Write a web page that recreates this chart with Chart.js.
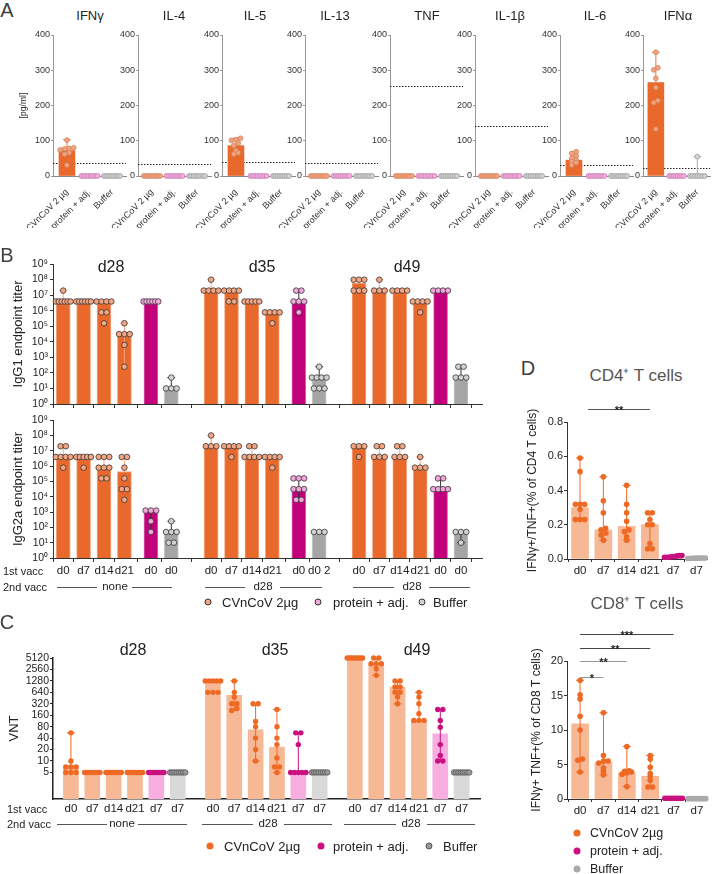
<!DOCTYPE html>
<html>
<head>
<meta charset="utf-8">
<title>CVnCoV immunogenicity</title>
<script src="https://cdn.jsdelivr.net/npm/chart.js@4.4.1/dist/chart.umd.min.js"></script>
<style>
  body { margin: 0; width: 715px; height: 874px; position: relative; overflow: hidden; background: #fff;
         font-family: 'Liberation Sans', Arial, sans-serif; color: #222; }
  canvas { position: absolute; }
  .t { position: absolute; white-space: nowrap; line-height: 1; transform: translate(-50%, -50%); }
  .t.l { transform: translate(0, -50%); }
  .rule { position: absolute; height: 0; border-top: 1px solid #555; }
  .dot { position: absolute; width: 7px; height: 7px; border-radius: 50%; box-sizing: border-box; transform: translate(-50%, -50%); }
</style>
</head>
<body>
<script>
/* ── A. serum cytokines (pg/ml) ──────────────────────────── */
const cytokines = ['IFNγ', 'IL-4', 'IL-5', 'IL-13', 'TNF', 'IL-1β', 'IL-6', 'IFNα'];
const groupsA   = ['CVnCoV 2 µg', 'protein + adj.', 'Buffer'];
const lloqA     = [36, 33, 39, 38, 255, 142, 31, 24];
const zeros8    = [0, 0, 0, 0, 0, 0, 0, 0];
// per cytokine: [CVnCoV, protein + adj., Buffer]
const barA = [[72, 0, 0], [0, 0, 0], [86, 0, 0], [0, 0, 0], [0, 0, 0], [0, 0, 0], [45, 0, 0], [265, 0, 0]];
const errA = [[103, null, null], [null, null, null], [107, null, null], [null, null, null],
              [null, null, null], [null, null, null], [69, null, null], [351, null, 55]];
const dotsA = [
  [[102, 80, 78, 77, 74, 66, 62, 31], zeros8, zeros8],
  [zeros8, zeros8, zeros8],
  [[107, 103, 101, 93, 86, 72, 66, 62], zeros8, zeros8],
  [zeros8, zeros8, zeros8],
  [zeros8, zeros8, zeros8],
  [zeros8, zeros8, zeros8],
  [[69, 64, 57, 50, 45, 41, 38, 31], zeros8, zeros8],
  [[351, 307, 301, 277, 251, 214, 208, 133], zeros8, [55, 0, 0, 0, 0, 0, 0, 0]],
];

/* ── B. IgG endpoint titers ──────────────────────────────── */
const timepoints = ['d28', 'd35', 'd49'];
const seriesB    = ['cv', 'cv', 'cv', 'cv', 'prot', 'buf'];
const firstVaccB = [['d0', 'd7', 'd14', 'd21', 'd0', 'd0'], ['d0', 'd7', 'd14', 'd21', 'd0', 'd0 2'], ['d0', 'd7', 'd14', 'd21', 'd0', 'd0']];
const secondVacc = ['none', 'd28', 'd28'];
const titerTicks = [1, 10, 1e2, 1e3, 1e4, 1e5, 1e6, 1e7, 1e8, 1e9];

const igg1Bar = [[3.9e6, 3.9e6, 3.9e6, 3.1e4, 3.9e6, 12], [1.95e7, 1.95e7, 3.9e6, 7.8e5, 3.9e6, 50], [6e7, 1.95e7, 1.95e7, 3.5e6, 1.95e7, 50]];
const igg1Hi  = [[1.95e7, null, null, 1.56e5, null, 50], [9.8e7, null, null, null, 1.95e7, 250], [null, 9.8e7, null, null, null, 250]];
const igg1Lo  = [[null, null, null, 250, null, null], [null, null, null, null, null, null], [null, null, null, null, null, null]];
const igg1Dots = [
  [[1.95e7, 3.9e6, 3.9e6, 3.9e6, 3.9e6, 3.9e6, 3.9e6], [3.9e6, 3.9e6, 3.9e6, 3.9e6, 3.9e6, 3.9e6],
   [3.9e6, 3.9e6, 3.9e6, 3.9e6, 7.8e5, 7.8e5, 1.56e5], [1.56e5, 3.1e4, 3.1e4, 3.1e4, 6250, 250],
   [3.9e6, 3.9e6, 3.9e6, 3.9e6, 3.9e6, 3.9e6], [50, 10, 10, 10]],
  [[9.8e7, 1.95e7, 1.95e7, 1.95e7, 1.95e7], [1.95e7, 1.95e7, 1.95e7, 1.95e7, 3.9e6, 3.9e6],
   [3.9e6, 3.9e6, 3.9e6, 3.9e6, 3.9e6], [7.8e5, 7.8e5, 7.8e5, 7.8e5, 1.56e5],
   [1.95e7, 1.95e7, 3.9e6, 3.9e6, 3.9e6, 7.8e5], [250, 50, 50, 50, 50, 10, 10, 10]],
  [[9.8e7, 9.8e7, 9.8e7, 1.95e7, 1.95e7, 1.95e7], [9.8e7, 1.95e7, 1.95e7, 1.95e7],
   [1.95e7, 1.95e7, 1.95e7, 1.95e7], [3.9e6, 3.9e6, 3.9e6, 3.9e6, 7.8e5],
   [1.95e7, 1.95e7, 1.95e7, 1.95e7], [250, 250, 50, 50, 50]],
];

const igg2aBar = [[3.9e6, 3.9e6, 7.8e5, 4.4e5, 1250, 50], [1.95e7, 1.95e7, 3.9e6, 3.9e6, 3.1e4, 50], [1.95e7, 3.9e6, 3.9e6, 7.8e5, 3.1e4, 50]];
const igg2aHi  = [[1.95e7, null, 3.9e6, 3.9e6, null, 250], [9.8e7, null, 1.95e7, null, 1.56e5, null], [null, 1.95e7, 1.95e7, 3.9e6, 1.56e5, null]];
const igg2aLo  = [[null, null, null, null, 50, null], [null, null, null, null, 6250, null], [null, null, null, null, null, 10]];
const igg2aDots = [
  [[1.95e7, 1.95e7, 3.9e6, 3.9e6, 3.9e6, 3.9e6, 7.8e5], [3.9e6, 3.9e6, 3.9e6, 3.9e6, 3.9e6, 7.8e5],
   [3.9e6, 3.9e6, 3.9e6, 7.8e5, 7.8e5, 7.8e5, 1.56e5, 1.56e5], [3.9e6, 3.9e6, 7.8e5, 1.56e5, 3.1e4, 3.1e4, 6250],
   [1250, 1250, 1250, 250, 50], [250, 50, 50, 50, 10, 10]],
  [[9.8e7, 1.95e7, 1.95e7, 1.95e7], [1.95e7, 1.95e7, 1.95e7, 1.95e7, 3.9e6],
   [1.95e7, 1.95e7, 3.9e6, 3.9e6, 3.9e6, 3.9e6], [3.9e6, 3.9e6, 3.9e6, 3.9e6, 7.8e5],
   [1.56e5, 1.56e5, 1.56e5, 3.1e4, 3.1e4, 3.1e4, 6250, 6250], [50, 50, 50]],
  [[1.95e7, 1.95e7, 1.95e7, 3.9e6], [1.95e7, 1.95e7, 3.9e6, 3.9e6, 3.9e6],
   [1.95e7, 1.95e7, 3.9e6, 3.9e6, 3.9e6], [3.9e6, 7.8e5, 7.8e5, 7.8e5],
   [1.56e5, 1.56e5, 3.1e4, 3.1e4, 3.1e4, 3.1e4], [50, 50, 50, 10]],
];

/* ── C. virus neutralising titers ────────────────────────── */
const firstVaccC = ['d0', 'd7', 'd14', 'd21', 'd7', 'd7'];
const vntTicks   = [5, 10, 20, 40, 80, 160, 320, 640, 1280, 2560, 5120];
const vntBar = [[7.5, 5, 5, 5, 5, 5], [1280, 530, 66, 23, 5, 5], [5120, 3620, 880, 117, 52, 5]];
const vntHi  = [[55, null, null, null, null, null], [null, 1280, 320, 227, 55, null], [null, 5120, 1280, 640, 227, null]];
const vntLo  = [[5, null, null, null, null, null], [null, 215, 10, 5, 5, null], [null, 1790, 320, 117, 10, null]];
const five8  = [5, 5, 5, 5, 5, 5, 5, 5];
const vntDots = [
  [[55, 10, 7, 7, 7, 5, 5, 5], five8, five8, five8, five8, five8],
  [[1280, 1280, 1280, 1280, 1280, 640, 640, 640], [1280, 640, 480, 320, 320, 240, 213],
   [320, 320, 110, 80, 40, 20, 10], [227, 80, 40, 27, 12, 7, 7, 5], [55, 55, 27, 5, 5, 5, 5, 5], five8],
  [[5120, 5120, 5120, 5120, 5120, 5120, 5120, 5120], [5120, 5120, 3620, 3620, 3620, 2670, 1790],
   [1280, 1280, 880, 880, 640, 640, 480, 320], [640, 480, 320, 175, 117, 117, 117],
   [227, 227, 117, 77, 27, 14, 10, 10], five8],
];

/* ── D. intracellular cytokine staining ──────────────────── */
const daysD = ['d0', 'd7', 'd14', 'd21', 'd7', 'd7'];
const cd4Bar = [0.30, 0.17, 0.19, 0.20, 0.015, 0.004];
const cd4Lo  = [0.23, 0.11, 0.11, 0.06, null, null];
const cd4Hi  = [0.59, 0.48, 0.43, 0.27, null, null];
const cd4Dots = [
  [0.59, 0.51, 0.32, 0.32, 0.32, 0.29, 0.23, 0.23, 0.23], [0.48, 0.34, 0.27, 0.18, 0.17, 0.15, 0.14, 0.11],
  [0.43, 0.32, 0.27, 0.22, 0.17, 0.16, 0.13, 0.11], [0.27, 0.27, 0.23, 0.20, 0.20, 0.09, 0.06, 0.06],
  [0.02, 0.02, 0.015, 0.015, 0.01, 0.01, 0.012, 0.018], [0.005, 0.004, 0.006, 0.003, 0.005, 0.004, 0.006, 0.005],
];
const cd8Bar = [10.9, 5.3, 3.8, 3.3, 0.1, 0.05];
const cd8Lo  = [3.9, 3.5, 1.8, 1.75, null, null];
const cd8Hi  = [17.2, 12.5, 7.6, 6.3, null, null];
const cd8Dots = [
  [17.2, 15.1, 14.5, 12, 10, 5.8, 5.6, 3.9], [12.5, 6.3, 5.5, 5.5, 5.2, 4.5, 4, 3.5],
  [7.6, 4.1, 4, 3.9, 3.8, 3.6, 1.8], [6.3, 5.8, 4.6, 3.7, 3.3, 2.7, 1.75, 1.75],
  [0.1, 0.1, 0.1, 0.1, 0.1, 0.1, 0.1, 0.1], [0.05, 0.05, 0.05, 0.05, 0.05, 0.05, 0.05, 0.05],
];
const sigCD4 = [{ from: 0, to: 3, text: '**', level: 0 }];
const sigCD8 = [{ from: 0, to: 1, text: '*', level: 0 }, { from: 0, to: 2, text: '**', level: 1 },
                { from: 0, to: 3, text: '**', level: 2 }, { from: 0, to: 4, text: '***', level: 3 }];
const legendNames = ['CVnCoV 2µg', 'protein + adj.', 'Buffer'];

/* ── Chart.js defaults ───────────────────────────────────── */
const FONT = "'Liberation Sans', Arial, sans-serif";
Chart.defaults.font.family = FONT;
Chart.defaults.color = '#222';
Chart.defaults.animation = false;
Chart.defaults.plugins.legend.display = false;
Chart.defaults.plugins.tooltip.enabled = false;

/* error bars: drawn straight after their bar dataset */
const errorBars = {
  id: 'errorBars',
  afterDatasetDraw(chart, args) {
    const ds = chart.data.datasets[args.index];
    if (!ds.errHi && !ds.errLo) return;
    const { ctx } = chart, xs = chart.scales.x, ys = chart.scales.y;
    const cap = ds.errCap || 4;
    ctx.save();
    ctx.lineWidth = 1;
    ds.data.forEach((p, i) => {
      const hi = ds.errHi ? ds.errHi[i] : null, lo = ds.errLo ? ds.errLo[i] : null;
      if (hi == null && lo == null) return;
      const px = xs.getPixelForValue(p.x);
      const yt = ys.getPixelForValue(hi ?? p.y), yb = ys.getPixelForValue(lo ?? p.y);
      ctx.strokeStyle = Array.isArray(ds.errColor) ? ds.errColor[i] : ds.errColor;
      ctx.beginPath();
      ctx.moveTo(px, yt); ctx.lineTo(px, yb);
      if (hi != null) { ctx.moveTo(px - cap, yt); ctx.lineTo(px + cap, yt); }
      if (lo != null) { ctx.moveTo(px - cap, yb); ctx.lineTo(px + cap, yb); }
      ctx.stroke();
    });
    ctx.restore();
  },
};

/* dotted detection-limit line (panel A) */
const refLine = {
  id: 'refLine',
  beforeDatasetsDraw(chart, args, opts) {
    if (opts.value == null) return;
    const { ctx, chartArea: a } = chart;
    const y = Math.round(chart.scales.y.getPixelForValue(opts.value)) + 0.5;
    ctx.save();
    ctx.strokeStyle = '#222'; ctx.lineWidth = 1; ctx.setLineDash([1.5, 1.5]);
    ctx.beginPath(); ctx.moveTo(a.left, y); ctx.lineTo(a.right, y); ctx.stroke();
    ctx.restore();
  },
};

/* significance brackets (panel D) */
const sigBars = {
  id: 'sigBars',
  afterDraw(chart, args, opts) {
    if (!opts.items) return;
    const { ctx, chartArea } = chart, xs = chart.scales.x;
    ctx.save();
    opts.items.forEach(it => {
      const y = Math.round(chartArea.top + opts.offsets[it.level]) + 0.5;
      const x1 = xs.getPixelForValue(it.from) + (opts.inset || 0), x2 = xs.getPixelForValue(it.to);
      ctx.strokeStyle = opts.colors[it.level]; ctx.lineWidth = 1;
      ctx.beginPath(); ctx.moveTo(x1, y); ctx.lineTo(x2, y); ctx.stroke();
      ctx.fillStyle = '#222'; ctx.font = `bold 11px ${FONT}`;
      ctx.textAlign = 'center'; ctx.textBaseline = 'alphabetic';
      ctx.fillText(it.text, (x1 + x2) / 2, y + 4);
    });
    ctx.restore();
  },
};
Chart.register(errorBars, refLine, sigBars);

/* ── helpers ─────────────────────────────────────────────── */
function place(left, top, w, h) {
  const c = document.createElement('canvas');
  c.width = w; c.height = h;
  c.style.left = left + 'px'; c.style.top = top + 'px';
  c.style.width = w + 'px'; c.style.height = h + 'px';
  document.body.appendChild(c);
  return c;
}
function text(str, x, y, size, opts = {}) {
  const d = document.createElement('div');
  d.className = 't' + (opts.left ? ' l' : '');
  d.textContent = str;
  d.style.left = x + 'px'; d.style.top = y + 'px'; d.style.fontSize = size + 'px';
  if (opts.color) d.style.color = opts.color;
  document.body.appendChild(d);
}
function rule(x1, x2, y) {
  const d = document.createElement('div');
  d.className = 'rule';
  d.style.left = x1 + 'px'; d.style.top = y + 'px'; d.style.width = (x2 - x1) + 'px';
  document.body.appendChild(d);
}
function legendDot(x, y, fill, stroke) {
  const d = document.createElement('div');
  d.className = 'dot';
  d.style.left = x + 'px'; d.style.top = y + 'px'; d.style.background = fill;
  if (stroke) d.style.border = '0.8px solid ' + stroke;
  document.body.appendChild(d);
}
const fixW = w => s => { s.width = w; s.paddingTop = 0; s.paddingBottom = 0; };
const fixH = h => s => { s.height = h; s.paddingLeft = 0; s.paddingRight = 0; };
const tickAt = vals => s => { s.ticks = vals.map(v => ({ value: v })); };

/* horizontal spread of replicate dots: equal-ish values sit side by side */
function swarm(vals, tf, o) {
  const t = vals.map(tf);
  const idx = t.map((v, i) => i).sort((a, b) => t[a] - t[b]);
  const rows = [];
  idx.forEach(i => {
    const r = rows.find(r => Math.abs(t[i] - r.v) <= o.tol);
    if (r) r.idx.push(i); else rows.push({ v: t[i], idx: [i] });
  });
  const off = vals.map(() => 0);
  rows.forEach(r => {
    const n = r.idx.length, st = n > 1 ? Math.min(o.step, o.maxW / (n - 1)) : 0;
    r.idx.forEach((i, k) => { off[i] = (k - (n - 1) / 2) * st; });
  });
  return off;
}

function barSet(xs, vals, st, kinds, hi, lo, thick) {
  return {
    type: 'bar', order: 2, grouped: false, barThickness: thick,
    data: xs.map((x, i) => ({ x, y: vals[i] })),
    backgroundColor: kinds.map(k => st[k].bar),
    borderColor: kinds.map(k => st[k].edge || st[k].bar),
    borderWidth: st.edgeWidth || 0,
    errHi: hi, errLo: lo, errColor: kinds.map(k => st[k].err), errCap: st.cap,
  };
}
function dotSets(xs, lists, st, kinds, tf, sw) {
  return ['cv', 'prot', 'buf'].map(k => {
    const pts = [];
    lists.forEach((vals, i) => {
      if (kinds[i] !== k) return;
      const off = swarm(vals, tf, sw);
      vals.forEach((v, j) => pts.push({ x: xs[i] + off[j], y: v }));
    });
    return {
      type: 'scatter', order: 1, clip: false, data: pts,
      pointRadius: st.r, pointBackgroundColor: st[k].dot,
      pointBorderColor: st[k].dotEdge || st[k].dot, pointBorderWidth: st[k].dotEdge ? 0.8 : 0,
    };
  });
}

/* ── A ───────────────────────────────────────────────────── */
const styleA = {
  r: 2.4, cap: 4,
  cv:   { bar: '#E9692C', err: '#EE7A40', dot: '#F3A47C', dotEdge: '#D08262' },
  prot: { bar: '#F3A6DB', err: '#C77AB0', dot: '#F4B0E0', dotEdge: '#C77AB0' },
  buf:  { bar: '#C8C8C8', err: '#AAAAAA', dot: '#D4D4D4', dotEdge: '#9A9A9A' },
};
const axesA = [53, 138, 222, 305, 390, 475, 560, 643];
cytokines.forEach((name, k) => {
  const left = axesA[k] - 40, w = Math.min(118, 715 - left);
  new Chart(place(left, 28, w, 200), {
    type: 'bar',
    data: { datasets: [
      barSet([0, 1, 2], barA[k], styleA, ['cv', 'prot', 'buf'], errA[k], null, 16),
      ...dotSets([0, 1, 2], dotsA[k], styleA, ['cv', 'prot', 'buf'], v => v, { tol: 7, step: 0.2, maxW: 0.72 }),
    ] },
    options: {
      responsive: false, devicePixelRatio: 1,
      layout: { padding: { left: 0, top: 7, right: Math.max(0, w - 40 - 73), bottom: 0 } },
      plugins: { refLine: { value: lloqA[k] } },
      scales: {
        x: {
          type: 'linear', min: -0.62, max: 2.62, offset: false,
          afterBuildTicks: tickAt([0, 1, 2]), afterFit: fixH(52),
          ticks: { callback: (v, i) => groupsA[i], autoSkip: false, minRotation: 45, maxRotation: 45,
                   font: { size: 9 }, padding: 3, color: '#333' },
          grid: { display: false }, border: { color: '#888' },
        },
        y: {
          min: 0, max: 400, afterFit: fixW(40),
          ticks: { stepSize: 100, font: { size: 9 }, padding: 1, color: '#333' },
          grid: { drawOnChartArea: false, tickLength: 2, color: '#999' }, border: { color: '#999' },
          title: { display: k === 0, text: '[pg/ml]', font: { size: 8.5 }, padding: { top: 6, bottom: 0 } },
        },
      },
    },
  });
  text(name, [90, 174, 255, 335, 427, 510, 595, 678][k], 15, 13);
});

/* ── B ───────────────────────────────────────────────────── */
const styleB = {
  r: 2.8, cap: 4, edgeWidth: 1,
  cv:   { bar: '#E9692C', edge: '#F3A77F', err: '#F4A582', dot: '#F4A582', dotEdge: '#333' },
  prot: { bar: '#C2007B', edge: '#DD6BB3', err: '#333', dot: '#F3A6DB', dotEdge: '#333' },
  buf:  { bar: '#A5A5A5', edge: '#C6C6C6', err: '#333', dot: '#D2D2D2', dotEdge: '#333' },
};
const xB = [], kindB = [], labB = [];
timepoints.forEach((tp, g) => seriesB.forEach((s, i) => {
  xB.push(0.5 + g * 7.25 + i + (i >= 4 && g < 2 ? 0.3 : 0));
  kindB.push(s); labB.push(firstVaccB[g][i]);
}));
const SUP = '⁰¹²³⁴⁵⁶⁷⁸⁹';
function titerChart(top, h, padT, xH, title, bars, hi, lo, dots, labels) {
  new Chart(place(0, top, 490, h), {
    type: 'bar',
    data: { datasets: [
      barSet(xB, bars.flat(), styleB, kindB, hi.flat(), lo.flat(), 14),
      ...dotSets(xB, dots.flat(), styleB, kindB, v => Math.log10(v), { tol: 0.12, step: 0.26, maxW: 0.72 }),
    ] },
    options: {
      responsive: false, devicePixelRatio: 1,
      layout: { padding: { left: 0, top: padT, right: 8, bottom: 0 } },
      scales: {
        x: {
          type: 'linear', min: 0, max: 21.03, offset: false,
          afterBuildTicks: tickAt(xB), afterFit: fixH(xH),
          ticks: { display: labels, callback: (v, i) => labB[i], autoSkip: false, maxRotation: 0,
                   font: { size: 11.5 }, padding: 2, color: '#222' },
          grid: { drawOnChartArea: false, tickLength: 4, color: '#333' }, border: { color: '#333' },
        },
        y: {
          type: 'logarithmic', min: 1, max: 1e9, afterFit: fixW(53),
          afterBuildTicks: tickAt(titerTicks),
          ticks: { callback: v => '10' + SUP[Math.round(Math.log10(v))], autoSkip: false,
                   font: { size: 10.5 }, padding: 2, color: '#222' },
          grid: { drawOnChartArea: false, tickLength: 3, color: '#333' }, border: { color: '#333' },
          title: { display: true, text: title, font: { size: 13 }, padding: { top: 11, bottom: 0 } },
        },
      },
    },
  });
}
titerChart(250, 162, 14, 8, 'IgG1 endpoint titer', igg1Bar, igg1Hi, igg1Lo, igg1Dots, false);
titerChart(408, 190, 12, 40, 'IgG2a endpoint titer', igg2aBar, igg2aHi, igg2aLo, igg2aDots, true);
[111, 262, 407].forEach((x, g) => text(timepoints[g], x, 267, 16));
text('1st vacc', 3, 571, 11, { left: true });
text('2nd vacc', 3, 587, 11, { left: true });
[[57, 172, 115], [205, 322, 263], [353, 470, 412]].forEach(([a, b, c], g) => {
  rule(a, c - 18, 587); rule(c + 17, b, 587); text(secondVacc[g], c, 587, 11.5);
});
[[208, 222, 'cv'], [318, 333, 'prot'], [422, 433, 'buf']].forEach(([dx, tx, k], i) => {
  legendDot(dx, 602, styleB[k].dot, '#333'); text(legendNames[i], tx, 602, 13, { left: true });
});

/* ── C ───────────────────────────────────────────────────── */
const styleC = {
  r: 2.7, cap: 4,
  cv:   { bar: '#F6B895', err: '#EE6A24', dot: '#EE6A24' },
  prot: { bar: '#F9AEE1', err: '#C8117E', dot: '#C8117E' },
  buf:  { bar: '#D9D9D9', err: '#777', dot: '#999999', dotEdge: '#555' },
};
const xC = [], kindC = [], labC = [];
timepoints.forEach((tp, g) => seriesB.forEach((s, i) => {
  xC.push(0.84 + g * 6.65 + i); kindC.push(s); labC.push(firstVaccC[i]);
}));
new Chart(place(0, 640, 490, 200), {
  type: 'bar',
  data: { datasets: [
    barSet(xC, vntBar.flat(), styleC, kindC, vntHi.flat(), vntLo.flat(), 15),
    ...dotSets(xC, vntDots.flat(), styleC, kindC, v => Math.log2(v), { tol: 0.25, step: 0.24, maxW: 0.72 }),
  ] },
  options: {
    responsive: false, devicePixelRatio: 1,
    layout: { padding: { left: 0, top: 18, right: 10, bottom: 0 } },
    scales: {
      x: {
        type: 'linear', min: 0, max: 20.0, offset: false,
        afterBuildTicks: tickAt(xC), afterFit: fixH(41),
        ticks: { callback: (v, i) => labC[i], autoSkip: false, maxRotation: 0, font: { size: 11.5 }, padding: 3, color: '#222' },
        grid: { drawOnChartArea: false, drawTicks: false }, border: { color: '#222', width: 1.5 },
      },
      y: {
        type: 'logarithmic', min: 1, max: 5120, afterFit: fixW(53),
        afterBuildTicks: tickAt(vntTicks),
        ticks: { callback: v => String(v), autoSkip: false, font: { size: 10.5 }, padding: 1, color: '#222' },
        grid: { drawOnChartArea: false, tickLength: 3, color: '#222' }, border: { color: '#222', width: 1.5 },
        title: { display: true, text: 'VNT', font: { size: 13 }, padding: { top: 7, bottom: 0 } },
      },
    },
  },
});
[133, 275, 417].forEach((x, g) => text(timepoints[g], x, 650, 16));
text('1st vacc', 7, 809, 11, { left: true });
text('2nd vacc', 7, 824, 11, { left: true });
[[57, 187, 122], [202, 332, 268], [344, 475, 411]].forEach(([a, b, c], g) => {
  rule(a, c - 15, 824); rule(c + 16, b, 824); text(secondVacc[g], c, 824, 11.5);
});
[[210, 224, 'cv'], [321, 333, 'prot'], [429, 443, 'buf']].forEach(([dx, tx, k], i) => {
  legendDot(dx, 846, styleC[k].dot, styleC[k].dotEdge); text(legendNames[i], tx, 846, 13, { left: true });
});

/* ── D ───────────────────────────────────────────────────── */
const styleD = {
  r: 2.8, cap: 4,
  cv:   { bar: '#F6B895', err: '#EE6A24', dot: '#EE6A24' },
  prot: { bar: '#F1A3D2', err: '#C8117E', dot: '#C8117E' },
  buf:  { bar: '#DDDDDD', err: '#AAAAAA', dot: '#AAAAAA' },
};
const xD = [0, 1, 2, 3, 4, 5];
function tcellChart(top, h, padT, max, step, dec, title, bars, hi, lo, dots, tol, sig, titlePad, xmax) {
  new Chart(place(510, top, 205, h), {
    type: 'bar',
    data: { datasets: [
      barSet(xD, bars, styleD, seriesB, hi, lo, 17),
      ...dotSets(xD, dots, styleD, seriesB, v => v, { tol, step: 0.2, maxW: 0.75 }),
    ] },
    options: {
      responsive: false, devicePixelRatio: 1,
      layout: { padding: { left: 0, top: padT, right: 205 - 57 - Math.round((xmax + 0.56) * 23.3), bottom: 0 } },
      plugins: { sigBars: sig },
      scales: {
        x: {
          type: 'linear', min: -0.56, max: xmax, offset: false,
          afterBuildTicks: tickAt(xD), afterFit: fixH(24),
          ticks: { callback: (v, i) => daysD[i], autoSkip: false, maxRotation: 0, font: { size: 11.5 }, padding: 2, color: '#222' },
          grid: { drawOnChartArea: false, tickLength: 3, color: '#333' }, border: { color: '#333' },
        },
        y: {
          min: 0, max, afterFit: fixW(57),
          ticks: { stepSize: step, callback: v => v.toFixed(dec), font: { size: 11 }, padding: 1, color: '#222' },
          grid: { drawOnChartArea: false, tickLength: 3, color: '#333' }, border: { color: '#333' },
          title: { display: true, text: title, font: { size: 12 }, padding: { top: titlePad, bottom: 0 } },
        },
      },
    },
  });
}
tcellChart(390, 193, 32, 0.8, 0.2, 1, 'IFNγ+/TNF+(% of CD4 T cells)', cd4Bar, cd4Hi, cd4Lo, cd4Dots, 0.02,
  { items: sigCD4, offsets: [-13], colors: ['#555'], inset: 8 }, 15, 5.45);
tcellChart(620, 203, 41, 20, 5, 0, 'IFNγ+ TNF+(% of CD8 T cells)', cd8Bar, cd8Hi, cd8Lo, cd8Dots, 0.35,
  { items: sigCD8, offsets: [16, 0, -13, -27], colors: ['#999', '#999', '#444', '#444'] }, 19, 5.3);
text('CD4⁺ T cells', 636, 375, 17, { color: '#555' });
text('CD8⁺ T cells', 637, 603, 17, { color: '#555' });
[[833, 'cv'], [851, 'prot'], [869, 'buf']].forEach(([y, k], i) => {
  legendDot(577, y, styleD[k].dot); text(legendNames[i], 590, y, 12.5, { left: true });
});

/* ── panel letters ───────────────────────────────────────── */
[['A', 7, 10], ['B', 7, 255], ['C', 7, 622], ['D', 528, 368]].forEach(([s, x, y]) => text(s, x, y, 20, { color: '#404040' }));
</script>
</body>
</html>
